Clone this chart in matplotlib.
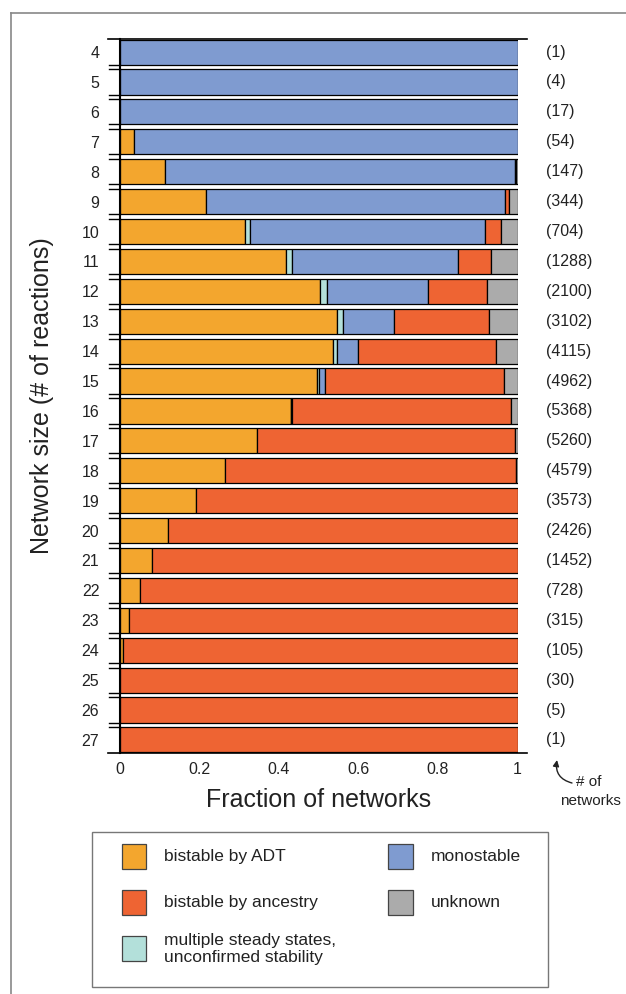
import numpy as np
import matplotlib
matplotlib.use('Agg')
import matplotlib.pyplot as plt
from matplotlib.patches import Rectangle
from matplotlib.lines import Line2D

plt.rcParams['font.family'] = ['Liberation Sans', 'DejaVu Sans']

# Data

sizes = list(range(4, 28))
n_networks = [1, 4, 17, 54, 147, 344, 704, 1288, 2100, 3102, 4115, 4962,
              5368, 5260, 4579, 3573, 2426, 1452, 728, 315, 105, 30, 5, 1]

adt = [0, 0, 0, 0.036, 0.114, 0.217, 0.316, 0.418, 0.503, 0.546, 0.536, 0.495,
       0.430, 0.345, 0.264, 0.191, 0.123, 0.082, 0.051, 0.025, 0.009, 0, 0, 0]
mss = [0, 0, 0, 0, 0, 0, 0.012, 0.016, 0.018, 0.015, 0.011, 0.007,
       0.002, 0, 0, 0, 0, 0, 0, 0, 0, 0, 0, 0]
mono = [1, 1, 1, 0.964, 0.879, 0.752, 0.590, 0.417, 0.253, 0.129, 0.051, 0.014,
        0.002, 0, 0, 0, 0, 0, 0, 0, 0, 0, 0, 0]
anc = [0, 0, 0, 0, 0.002, 0.010, 0.040, 0.083, 0.149, 0.239, 0.347, 0.449,
       0.549, 0.648, 0.733, 0.809, 0.877, 0.918, 0.949, 0.975, 0.991, 1, 1, 1]
unk = [0, 0, 0, 0, 0.005, 0.021, 0.042, 0.066, 0.077, 0.071, 0.055, 0.035,
       0.017, 0.007, 0.003, 0, 0, 0, 0, 0, 0, 0, 0, 0]

series = [adt, mss, mono, anc, unk]
colors = ['#F3A62E', '#B3E0DA', '#7F9BD0', '#EE6433', '#ABABAB']
labels = ['bistable by ADT', 'multiple steady states,\nunconfirmed stability',
          'monostable', 'bistable by ancestry', 'unknown']

W, H = 626, 994
fig = plt.figure(figsize=(W / 100, H / 100), dpi=100)

# axes placed in pixel terms
ax_l, ax_r = 119.5, 517.5
ax_t, ax_b = 39.5, 752.5
ax = fig.add_axes([ax_l / W, 1 - ax_b / H, (ax_r - ax_l) / W, (ax_b - ax_t) / H])

bar_h = 0.84
y = np.array(sizes)
left = np.zeros(len(sizes))
for vals, col in zip(series, colors):
    vals = np.array(vals, dtype=float)
    m = vals > 0
    ax.barh(y[m], vals[m], left=left[m], height=bar_h, color=col,
            edgecolor='black', linewidth=0.9)
    left += vals

ax.set_xlim(0, 1)
ax.set_ylim(27 + bar_h / 2, 4 - bar_h / 2)

for s in ['top', 'right', 'bottom']:
    ax.spines[s].set_visible(False)
ax.spines['left'].set_linewidth(1.5)

ax.set_yticks(sizes)
ax.set_yticklabels([str(s) for s in sizes], fontsize=11.5, color='#222222')
ax.set_xticks([0, 0.2, 0.4, 0.6, 0.8, 1])
ax.set_xticklabels(['0', '0.2', '0.4', '0.6', '0.8', '1'], fontsize=11.5, color='#222222')
ax.tick_params(axis='y', length=0, pad=14.5)
ax.tick_params(axis='x', length=0, pad=7)

# long top and bottom lines
for yy in [4 - bar_h / 2, 27 + bar_h / 2]:
    ax.plot([-0.03, 1.025], [yy, yy], color='black', lw=1.2, clip_on=False,
            transform=ax.get_yaxis_transform())

# break marks between rows
for s in sizes[:-1]:
    for yy in [s + bar_h / 2, s + 1 - bar_h / 2]:
        ax.plot([-0.027, 0], [yy, yy], color='black', lw=1.0, clip_on=False,
                transform=ax.get_yaxis_transform())

# number of networks per size
for s, n in zip(sizes, n_networks):
    ax.text(1.0716, s, f'({n})', transform=ax.get_yaxis_transform(),
            ha='left', va='center', fontsize=11.5, color='#222222')

ax.annotate('', xy=(557 / W, 1 - 760 / H), xycoords='figure fraction',
            xytext=(572 / W, 1 - 783 / H), textcoords='figure fraction',
            arrowprops=dict(arrowstyle='-|>', color='#222222', lw=1.0,
                            mutation_scale=9, shrinkA=0, shrinkB=0,
                            connectionstyle='arc3,rad=-0.45'))
fig.text(589 / W, 1 - 782 / H, '# of', ha='center', va='center', fontsize=11, color='#222222')
fig.text(590 / W, 1 - 801 / H, 'networks', ha='center', va='center', fontsize=11, color='#222222')

fig.text((ax_l + ax_r) / 2 / W, 1 - 800 / H, 'Fraction of networks', ha='center', va='center',
         fontsize=18, color='#222222')
fig.text(42 / W, 1 - (ax_t + ax_b) / 2 / H, 'Network size (# of reactions)', ha='center',
         va='center', rotation=90, fontsize=18, color='#222222')

# legend box drawn by hand
fig.add_artist(Rectangle((92.3 / W, 1 - 986.7 / H), (548 - 92.3) / W, (986.7 - 832.3) / H,
                         transform=fig.transFigure, fill=False, edgecolor='#777777', lw=1.0))
leg_items = [(0, 0, 0), (3, 0, 1), (1, 0, 2), (2, 1, 0), (4, 1, 1)]
sq_x = [121.7, 388.0]
tx_x = [164.0, 430.7]
row_c = [856.2, 902.6, 948.8]
sq = 24.6
for idx, c, r in leg_items:
    fig.add_artist(Rectangle((sq_x[c] / W, 1 - (row_c[r] + sq / 2) / H), sq / W, sq / H,
                             transform=fig.transFigure, facecolor=colors[idx],
                             edgecolor='#444444', lw=0.9))
    fig.text(tx_x[c] / W, 1 - row_c[r] / H, labels[idx], ha='left', va='center',
             fontsize=12.5, color='#222222', linespacing=1.2)

# outer frame
fig.add_artist(Line2D([11 / W, 11 / W], [1 - 13 / H, 0], transform=fig.transFigure,
                      color='#888888', lw=1.2))
fig.add_artist(Line2D([11 / W, 1], [1 - 13 / H, 1 - 13 / H], transform=fig.transFigure,
                      color='#888888', lw=1.2))

fig.savefig('out.png', dpi=100)
